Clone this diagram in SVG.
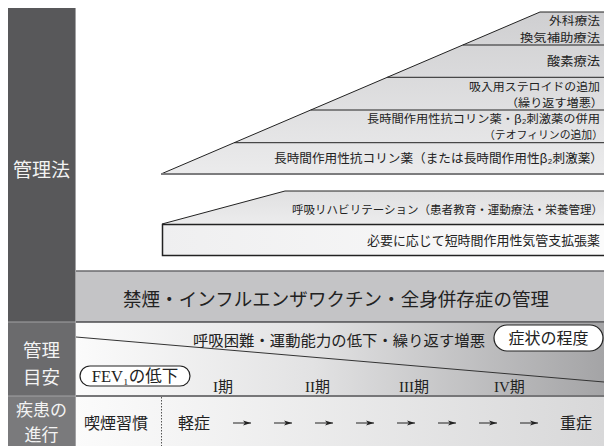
<svg xmlns="http://www.w3.org/2000/svg" width="604" height="446" viewBox="0 0 604 446">
<defs>
  <linearGradient id="gTri" x1="0" y1="12" x2="0" y2="174" gradientUnits="userSpaceOnUse">
    <stop offset="0" stop-color="#cfcfd1"/>
    <stop offset="1" stop-color="#ebebec"/>
  </linearGradient>
  <linearGradient id="gRehab" x1="0" y1="191" x2="0" y2="224" gradientUnits="userSpaceOnUse">
    <stop offset="0" stop-color="#e0e0e1"/>
    <stop offset="1" stop-color="#ececed"/>
  </linearGradient>
  <linearGradient id="gBox" x1="162" y1="0" x2="604" y2="0" gradientUnits="userSpaceOnUse">
    <stop offset="0" stop-color="#efeff0"/>
    <stop offset="1" stop-color="#fbfbfb"/>
  </linearGradient>
  <linearGradient id="gGuide" x1="75" y1="0" x2="604" y2="0" gradientUnits="userSpaceOnUse">
    <stop offset="0" stop-color="#fbfbfb"/>
    <stop offset="0.45" stop-color="#e2e2e3"/>
    <stop offset="1" stop-color="#a4a4a6"/>
  </linearGradient>
  <linearGradient id="gProg" x1="75" y1="0" x2="604" y2="0" gradientUnits="userSpaceOnUse">
    <stop offset="0" stop-color="#fbfbfb"/>
    <stop offset="1" stop-color="#d8d8d9"/>
  </linearGradient>
  <marker id="arr" viewBox="0 0 8 6" refX="8" refY="3" markerWidth="8" markerHeight="6" orient="auto" markerUnits="userSpaceOnUse">
    <path d="M0,0.5 L8,3 L0,5.5 L2,3 z" fill="#222"/>
  </marker>
</defs>
<style>
  .jp{font-family:"Noto Sans CJK JP","Noto Sans CJK SC",sans-serif;fill:#222}
  .se{font-family:"Liberation Serif","DejaVu Serif",serif}
  .gr{font-family:"Liberation Serif","DejaVu Serif",serif;font-style:italic}
  .end{text-anchor:end}
  .mid{text-anchor:middle}
  .band{font-size:13px}
  .two{font-size:11.2px}
  .lbl{fill:#f3f3f3;font-size:18.5px;text-anchor:middle}
  .edge{stroke:#222;stroke-width:1;fill:none}
  .pill{fill:#fff;stroke:#222;stroke-width:1.2}
  .arrow{stroke:#222;stroke-width:1;fill:none;marker-end:url(#arr)}
</style>
<rect width="604" height="446" fill="#fff"/>

<!-- left column -->
<g id="col-management">
  <rect x="8" y="8" width="67" height="314" fill="#58585a"/>
  <text class="jp lbl" x="41.5" y="177" style="font-size:19px">管理法</text>
</g>
<g id="col-guide">
  <rect x="8" y="322" width="67" height="74" fill="#6b6b6d"/>
  <text class="jp lbl" x="41.5" y="356.5">管理</text>
  <text class="jp lbl" x="41.5" y="383.5">目安</text>
</g>
<g id="col-progress">
  <rect x="8" y="396" width="67" height="50" fill="#7a7a7c"/>
  <text class="jp lbl" x="41.5" y="416" style="font-size:17px">疾患の</text>
  <text class="jp lbl" x="41.5" y="440.6" style="font-size:17px">進行</text>
</g>
<g id="col-lines" stroke="#a2a2a4" stroke-width="1">
  <line x1="75.5" y1="8" x2="75.5" y2="446"/>
  <line x1="8" y1="322" x2="75" y2="322"/>
  <line x1="8" y1="396" x2="75" y2="396"/>
</g>

<!-- staircase -->
<g id="band-surgery">
  <polygon points="540,12 604,12 604,45 462.8,45" fill="url(#gTri)"/>
  <text class="jp two end" x="600" y="25.3" textLength="51" lengthAdjust="spacingAndGlyphs">外科療法</text>
  <text class="jp two end" x="600" y="41.6" textLength="80" lengthAdjust="spacingAndGlyphs">換気補助療法</text>
</g>
<g id="band-oxygen">
  <polygon points="462.8,45 604,45 604,77.3 387.2,77.3" fill="url(#gTri)"/>
  <text class="jp end" x="600" y="66" font-size="12.5" textLength="53" lengthAdjust="spacingAndGlyphs">酸素療法</text>
</g>
<g id="band-ics">
  <polygon points="387.2,77.3 604,77.3 604,110 310.7,110" fill="url(#gTri)"/>
  <text class="jp two end" x="600" y="90.6" textLength="131" lengthAdjust="spacingAndGlyphs">吸入用ステロイドの追加</text>
  <text class="jp two end" x="603" y="106.9" textLength="97" lengthAdjust="spacingAndGlyphs">（繰り返す増悪）</text>
</g>
<g id="band-combo">
  <polygon points="310.7,110 604,110 604,142.7 234.2,142.7" fill="url(#gTri)"/>
  <text class="jp two end" x="600" y="123.3" textLength="233" lengthAdjust="spacingAndGlyphs">長時間作用性抗コリン薬・β₂刺激薬の併用</text>
  <text class="jp end" x="603" y="139" font-size="10.8" textLength="119" lengthAdjust="spacingAndGlyphs">（テオフィリンの追加）</text>
</g>
<g id="band-lama">
  <polygon points="234.2,142.7 604,142.7 604,174 161,174" fill="url(#gTri)"/>
  <text class="jp end" x="603" y="163" font-size="12.3" textLength="329" lengthAdjust="spacingAndGlyphs">長時間作用性抗コリン薬（または長時間作用性β₂刺激薬）</text>
</g>
<g id="stair-lines">
  <polyline class="edge" points="161,174 540,12 604,12"/>
  <line class="edge" x1="462.8" y1="45" x2="604" y2="45"/>
  <line class="edge" x1="387.2" y1="77.3" x2="604" y2="77.3"/>
  <line class="edge" x1="310.7" y1="110" x2="604" y2="110"/>
  <line class="edge" x1="234.2" y1="142.7" x2="604" y2="142.7"/>
  <line x1="161" y1="174" x2="604" y2="174" stroke="#7c7c7e" stroke-width="2"/>
</g>

<g id="band-rehab">
  <polygon points="285,191 604,191 604,224 162,224" fill="url(#gRehab)"/>
  <polyline class="edge" points="162,224 285,191 604,191"/>
  <text class="jp end" x="603" y="214" font-size="11.4" textLength="311" lengthAdjust="spacingAndGlyphs">呼吸リハビリテーション（患者教育・運動療法・栄養管理）</text>
</g>
<g id="band-saba">
  <rect x="162.5" y="224.5" width="450" height="31" fill="url(#gBox)" stroke="#222" stroke-width="1.5"/>
  <text class="jp end" x="600" y="245" font-size="12.8" textLength="233" lengthAdjust="spacingAndGlyphs">必要に応じて短時間作用性気管支拡張薬</text>
</g>

<g id="band-general">
  <rect x="76" y="271" width="528" height="51" fill="#c4c4c6"/>
  <line x1="76" y1="271" x2="604" y2="271" stroke="#6a6a6c" stroke-width="1.5"/>
  <line x1="76" y1="322" x2="604" y2="322" stroke="#4a4a4c" stroke-width="1.5"/>
  <text class="jp" x="123" y="306" font-size="18.5" textLength="426">禁煙・インフルエンザワクチン・全身併存症の管理</text>
</g>

<!-- guide row -->
<g id="row-guide">
  <rect x="76" y="323" width="528" height="73" fill="url(#gGuide)"/>
  <line x1="76" y1="337" x2="604" y2="382" stroke="#333" stroke-width="1"/>
  <text class="jp" x="193" y="346" font-size="15.3" textLength="292">呼吸困難・運動能力の低下・繰り返す増悪</text>
  <text class="jp se" x="213" y="392" font-size="15">I<tspan class="jp">期</tspan></text>
  <text class="jp se" x="305" y="392" font-size="15">II<tspan class="jp">期</tspan></text>
  <text class="jp se" x="399" y="392" font-size="15">III<tspan class="jp">期</tspan></text>
  <text class="jp se" x="494" y="392" font-size="15">IV<tspan class="jp">期</tspan></text>
</g>
<g id="pill-symptom">
  <rect class="pill" x="494" y="325" width="109" height="26" rx="13"/>
  <text class="jp mid" x="548.5" y="344" font-size="16">症状の程度</text>
</g>
<g id="pill-fev">
  <rect class="pill" x="80" y="366" width="110" height="20" rx="10"/>
  <text class="jp mid" x="135" y="382" font-size="16.5"><tspan class="se">FEV₁</tspan>の低下</text>
</g>
<line x1="76" y1="396" x2="604" y2="396" stroke="#767678" stroke-width="2"/>

<!-- progress row -->
<g id="row-progress">
  <rect x="76" y="397" width="528" height="49" fill="url(#gProg)"/>
  <line x1="161.5" y1="397" x2="161.5" y2="446" stroke="#555" stroke-width="1" stroke-dasharray="1.5,1.5"/>
  <text class="jp" x="84" y="429" font-size="16">喫煙習慣</text>
  <text class="jp" x="178" y="429" font-size="16">軽症</text>
  <text class="jp" x="560" y="429" font-size="16">重症</text>
</g>
<g id="connectors">
  <line class="arrow" x1="233" y1="423" x2="251" y2="423"/>
  <line class="arrow" x1="274" y1="423" x2="292" y2="423"/>
  <line class="arrow" x1="315" y1="423" x2="333" y2="423"/>
  <line class="arrow" x1="356" y1="423" x2="374" y2="423"/>
  <line class="arrow" x1="397" y1="423" x2="415" y2="423"/>
  <line class="arrow" x1="438" y1="423" x2="456" y2="423"/>
  <line class="arrow" x1="479" y1="423" x2="497" y2="423"/>
  <line class="arrow" x1="520" y1="423" x2="538" y2="423"/>
</g>
</svg>
